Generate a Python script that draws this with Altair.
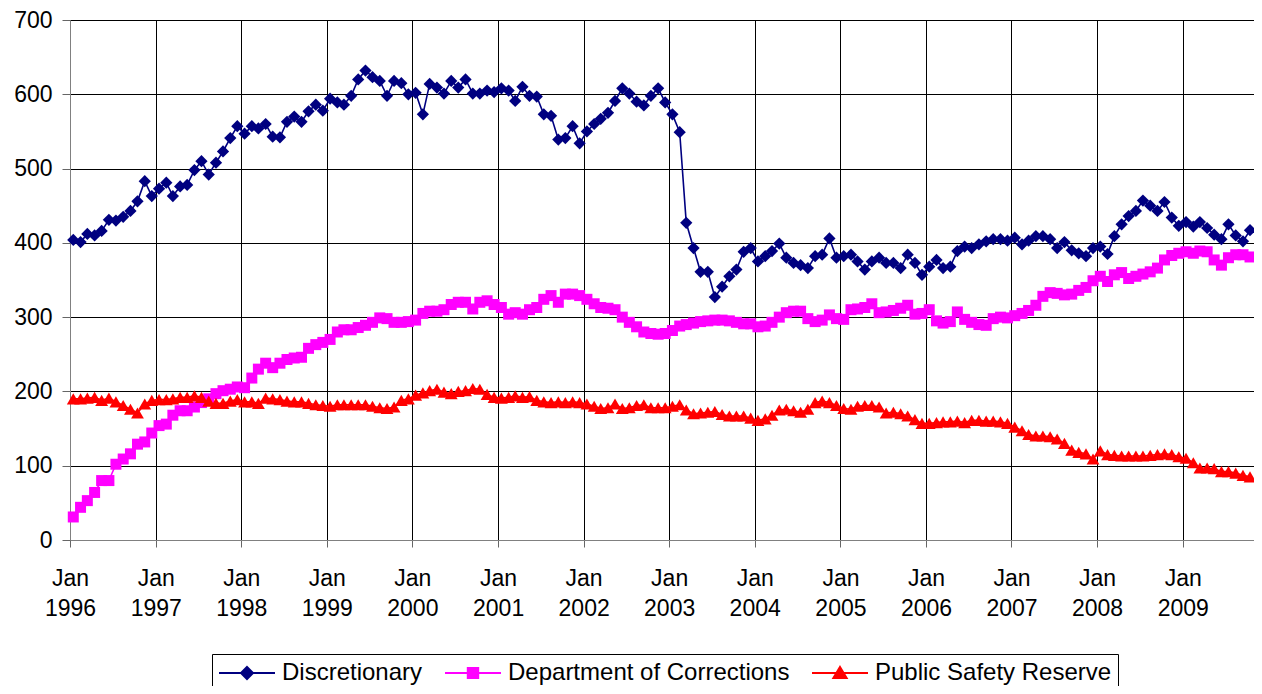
import altair as alt
import pandas as pd

FONT = "Liberation Sans"

series_names = ["Discretionary", "Department of Corrections", "Public Safety Reserve"]
series_colors = ["#000080", "#FF00FF", "#FF0000"]
marker_shapes = ["diamond", "square", "triangle-up"]
marker_sizes = [150, 121, 165]
# legend symbols: a short line with the marker in its middle (unit = 12 px)
legend_paths = [
    "M-1,0L3.667,0M1.333,-0.5L1.833,0L1.333,0.5L0.833,0Z",
    "M-1,0L3.667,0M0.9,-0.42L1.766,-0.42L1.766,0.42L0.9,0.42Z",
    "M-1,0L3.667,0M1.333,-0.5L1.883,0.42L0.783,0.42Z",
]

# monthly values, Jan 1996 .. Oct 2009
discretionary = [
    404, 401, 412, 410, 416, 431, 430, 435, 443, 456,
    483, 463, 473, 481, 463, 476, 478, 498, 510, 492,
    508, 523, 541, 557, 547, 557, 554, 560, 543, 542,
    563, 570, 563, 577, 586, 578, 594, 589, 586, 598,
    620, 632, 623, 618, 598, 618, 615, 600, 602, 573,
    614, 609, 601, 618, 609, 620, 601, 601, 605, 603,
    608, 605, 591, 610, 598, 597, 573, 571, 539, 541,
    557, 534, 550, 560, 567, 575, 591, 608, 601, 590,
    585, 598, 608, 589, 573, 549, 427, 393, 361, 361,
    327, 341, 355, 364, 388, 393, 375, 382, 389, 399,
    380, 373, 370, 366, 382, 384, 406, 380, 382, 384,
    375, 364, 375, 380, 373, 373, 366, 384, 373, 357,
    368, 377, 366, 368, 389, 395, 393, 398, 402, 405,
    405, 403, 407, 398, 403, 409, 409, 405, 393, 401,
    390, 386, 382, 393, 395, 385, 409, 425, 436, 443,
    457, 450, 443, 455, 434, 423, 428, 422, 428, 420,
    411, 405, 425, 410, 402, 417,
]
corrections = [
    31, 44, 53, 64, 80, 80, 102, 109, 116, 129,
    132, 144, 154, 156, 168, 174, 174, 179, 185, 190,
    197, 201, 203, 206, 205, 218, 230, 238, 232, 238,
    243, 245, 246, 258, 263, 266, 270, 280, 283, 283,
    286, 289, 293, 299, 298, 293, 293, 294, 296, 305,
    308, 308, 310, 317, 320, 320, 311, 320, 322, 317,
    313, 304, 306, 304, 310, 313, 324, 329, 320, 331,
    331, 329, 324, 318, 313, 312, 310, 300, 293, 287,
    280, 278, 277, 278, 282, 288, 290, 292, 294, 295,
    296, 296, 295, 293, 291, 291, 287, 288, 293, 300,
    306, 308, 308, 298, 294, 296, 303, 298, 297, 310,
    311, 313, 318, 306, 307, 309, 312, 316, 304, 305,
    310, 295, 292, 294, 307, 297, 293, 290, 289, 298,
    300, 299, 302, 305, 309, 316, 328, 333, 332, 330,
    331, 336, 340, 349, 355, 348, 357, 360, 352, 355,
    358, 361, 366, 377, 383, 386, 388, 386, 389, 388,
    377, 370, 380, 384, 384, 381,
]
public_safety = [
    190, 190, 191, 192, 188, 191, 186, 181, 176, 171,
    183, 188, 189, 189, 190, 192, 192, 194, 192, 187,
    184, 184, 187, 189, 186, 186, 184, 191, 190, 189,
    187, 186, 186, 184, 182, 181, 180, 182, 182, 182,
    182, 182, 180, 178, 177, 179, 188, 190, 195, 198,
    201, 203, 199, 197, 200, 201, 204, 203, 196, 192,
    191, 192, 194, 192, 193, 188, 186, 185, 186, 185,
    186, 185, 183, 180, 177, 178, 183, 177, 178, 181,
    182, 178, 178, 178, 180, 182, 175, 170, 171, 172,
    173, 169, 167, 167, 167, 164, 161, 163, 168, 175,
    176, 174, 172, 176, 185, 187, 185, 181, 177, 176,
    180, 181, 181, 179, 171, 172, 170, 167, 162, 157,
    157, 158, 159, 159, 160, 158, 161, 161, 160, 160,
    159, 157, 152, 147, 142, 140, 140, 139, 136, 130,
    121, 118, 116, 109, 120, 115, 114, 113, 113, 113,
    113, 114, 115, 116, 115, 112, 110, 104, 97, 97,
    96, 92, 92, 90, 87, 85,
]

y_ticks = [0, 100, 200, 300, 400, 500, 600, 700]
tick_years = list(range(1996, 2010))

n = len(discretionary)
dates = (pd.date_range("1996-01-01", periods=n, freq="MS") + pd.Timedelta(days=14)).strftime("%Y-%m-%d")
rows = []
for name, vals in zip(series_names, [discretionary, corrections, public_safety]):
    for d, v in zip(dates, vals):
        rows.append({"date": d, "value": v, "series": name})
df = pd.DataFrame(rows)

x_enc = alt.X(
    "date:T",
    title=None,
    scale=alt.Scale(
        type="utc",
        domain=[alt.DateTime(year=1996, month=1, date=1, utc=True),
                alt.DateTime(year=2009, month=11, date=1, utc=True)],
        nice=False,
    ),
    axis=alt.Axis(
        values=[alt.DateTime(year=y, month=1, date=1, utc=True) for y in tick_years],
        labelExpr="['Jan', utcFormat(datum.value, '%Y')]",
        labelFont=FONT, labelFontSize=23, labelColor="black",
        labelAngle=0, labelAlign="center", labelBaseline="top",
        labelPadding=20, labelLineHeight=30, labelFlush=False, labelOverlap=False,
        tickSize=7, tickColor="#666666", domainColor="#808080",
        grid=True, gridColor="#000000", gridWidth=1,
    ),
)
y_enc = alt.Y(
    "value:Q",
    title=None,
    scale=alt.Scale(domain=[0, 700], nice=False),
    axis=alt.Axis(
        values=y_ticks,
        labelFont=FONT, labelFontSize=23, labelColor="black",
        labelPadding=10, tickSize=8, tickColor="#666666", domainColor="#808080",
        grid=True, gridColor="#000000", gridWidth=1,
    ),
)

line_layers = []
point_layers = []
for name, col, sh, sz in zip(series_names, series_colors, marker_shapes, marker_sizes):
    sub = alt.Chart(df).transform_filter(alt.datum.series == name)
    line_layers.append(sub.mark_line(color=col, strokeWidth=1.6).encode(x=x_enc, y=y_enc))
    point_layers.append(
        sub.mark_point(shape=sh, size=sz, filled=True, color=col, opacity=1).encode(x=x_enc, y=y_enc)
    )

leg = alt.Legend(
    orient="none", legendX=142, legendY=634, direction="horizontal", title=None,
    labelFont=FONT, labelFontSize=24, labelColor="black", labelLimit=600,
    labelOffset=38, columnPadding=18, symbolSize=576, symbolStrokeWidth=2,
    symbolOpacity=1, strokeColor="black", fillColor="white", padding=6,
)
# invisible layer that only carries the legend (line + marker symbols)
legend_layer = (
    alt.Chart(df)
    .transform_filter(alt.datum.date == dates[0])
    .mark_point(filled=True, opacity=0, size=100)
    .encode(
        x=x_enc, y=y_enc,
        fill=alt.Fill("series:N", scale=alt.Scale(domain=series_names, range=series_colors), legend=leg),
        stroke=alt.Stroke("series:N", scale=alt.Scale(domain=series_names, range=series_colors), legend=leg),
        shape=alt.Shape("series:N", scale=alt.Scale(domain=series_names, range=legend_paths), legend=leg),
    )
)

chart = (
    alt.layer(*line_layers, *point_layers, legend_layer)
    .properties(
        width=1184, height=520,
        padding={"left": 62, "top": 12, "right": 0, "bottom": 146},
        autosize=alt.AutoSizeParams(type="none"),
        background="white",
    )
    .configure_view(stroke="#808080", strokeWidth=1)
)

chart.save("out.html", embed_options={"renderer": "svg", "actions": False})
